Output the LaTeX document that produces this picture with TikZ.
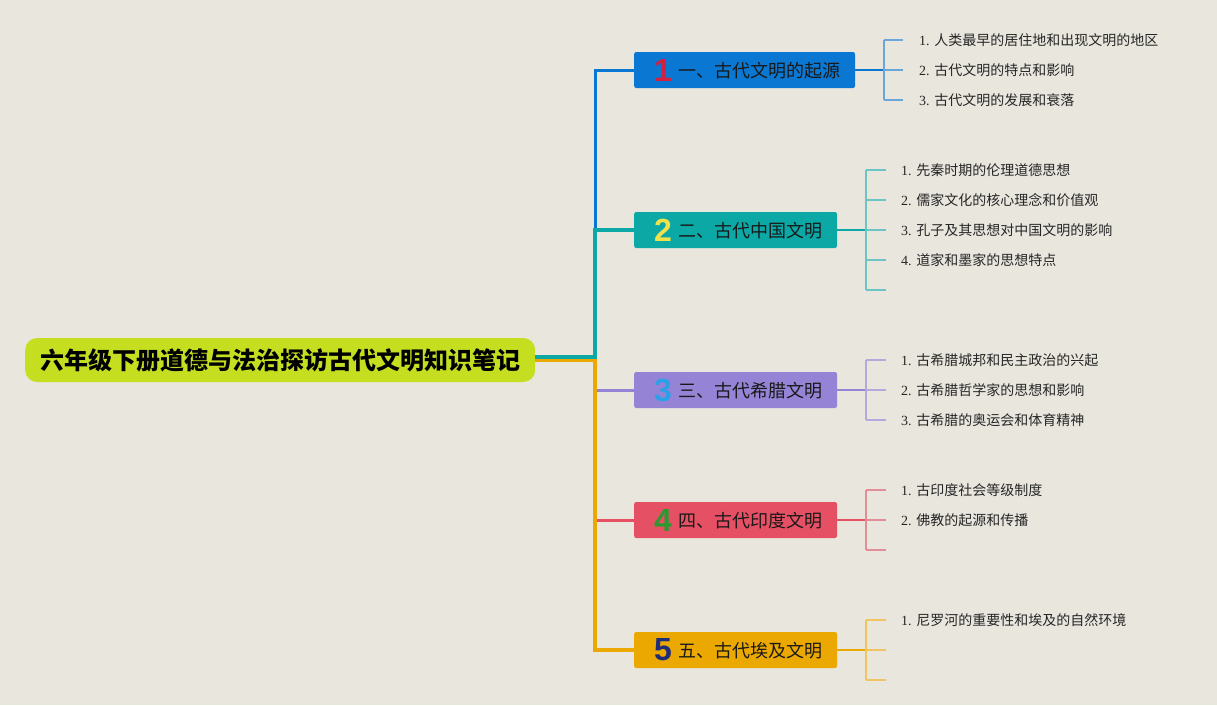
\documentclass[tikz,border=0pt]{standalone}
\usepackage{fontspec}
\setmainfont{Liberation Serif}
\newfontfamily\cjk{Noto Sans CJK SC}
\newfontfamily\numfont{Liberation Sans}
\usetikzlibrary{calc}
\definecolor{bg}{HTML}{E9E6DE}
\definecolor{rootc}{HTML}{C5DE20}
\definecolor{cA}{HTML}{0A78D2}
\definecolor{cB}{HTML}{0BA8A6}
\definecolor{cC}{HTML}{9583D6}
\definecolor{cD}{HTML}{E65065}
\definecolor{cE}{HTML}{EBA800}
\definecolor{lA}{HTML}{6AA6DA}
\definecolor{lB}{HTML}{6CC4C4}
\definecolor{lC}{HTML}{B4A8DC}
\definecolor{lD}{HTML}{E48C98}
\definecolor{lE}{HTML}{F0C460}
\definecolor{nA}{HTML}{D42040}
\definecolor{nB}{HTML}{F2E24A}
\definecolor{nC}{HTML}{2AA0E8}
\definecolor{nD}{HTML}{2A9A30}
\definecolor{nE}{HTML}{1E2C7A}
\newcommand\bnum[2]{\raisebox{-1.5pt}{\numfont\bfseries\fontsize{32}{32}\selectfont\color{#1}#2}}
\newcommand\btext[1]{\raisebox{2pt}{#1}}
\newcommand\zh[1]{{\cjk #1}}
\begin{document}
\begin{tikzpicture}[x=1pt,y=1pt,
  rootbox/.style={fill=rootc, rounded corners=12pt, minimum height=44pt, inner xsep=15pt, inner ysep=0pt, anchor=west, text=black, font=\cjk\bfseries\fontsize{24}{28}\selectfont},
  branchbox/.style={rounded corners=2pt, minimum height=36pt, inner xsep=0pt, inner ysep=0pt, anchor=west, text=black!90, font=\cjk\fontsize{18}{20}\selectfont},
  leaf/.style={anchor=west, inner sep=0pt, text=black!85, font=\fontsize{14}{16}\selectfont},
  trunk/.style={line width=#1, line join=miter},
  twig/.style={line width=1.5pt},
  stem/.style={line width=2pt}
]
\fill[bg] (0,0) rectangle (1217,-705);
\useasboundingbox (0,0) rectangle (1217,-705);

% root
\node[rootbox] (root) at (25,-360) {六年级下册道德与法治探访古代文明知识笔记};

% branch boxes
\node[branchbox, fill=cA] (b1) at (634,-70) {\hspace*{20pt}\bnum{nA}{1}\hspace{6pt}\btext{一、古代文明的起源}\hspace*{15pt}};
\node[branchbox, fill=cB] (b2) at (634,-230) {\hspace*{20pt}\bnum{nB}{2}\hspace{6pt}\btext{二、古代中国文明}\hspace*{15pt}};
\node[branchbox, fill=cC] (b3) at (634,-390) {\hspace*{20pt}\bnum{nC}{3}\hspace{6pt}\btext{三、古代希腊文明}\hspace*{15pt}};
\node[branchbox, fill=cD] (b4) at (634,-520) {\hspace*{20pt}\bnum{nD}{4}\hspace{6pt}\btext{四、古代印度文明}\hspace*{15pt}};
\node[branchbox, fill=cE] (b5) at (634,-650) {\hspace*{20pt}\bnum{nE}{5}\hspace{6pt}\btext{五、古代埃及文明}\hspace*{15pt}};

% trunk connectors
\draw[cA, trunk=3pt] ([yshift=3pt]root.east) -| ($(b1.west)+(-39,0)$) -- (b1.west);
\draw[cC, trunk=3pt] ([yshift=0pt]root.east) -| ($(b3.west)+(-39,0)$) -- (b3.west);
\draw[cD, trunk=3pt] ([yshift=0pt]root.east) -| ($(b4.west)+(-39,0)$) -- (b4.west);
\draw[cE, trunk=4pt] ([yshift=0pt]root.east) -| ($(b5.west)+(-39,0)$) -- (b5.west);
\draw[cB, trunk=4.5pt] ([yshift=3pt]root.east) -| ($(b2.west)+(-39,0)$) -- (b2.west);

% leaves
\node[leaf] (l11) at (919,-40) {1. \zh{人类最早的居住地和出现文明的地区}};
\node[leaf] (l12) at (919,-70) {2. \zh{古代文明的特点和影响}};
\node[leaf] (l13) at (919,-100) {3. \zh{古代文明的发展和衰落}};

\node[leaf] (l21) at (901,-170) {1. \zh{先秦时期的伦理道德思想}};
\node[leaf] (l22) at (901,-200) {2. \zh{儒家文化的核心理念和价值观}};
\node[leaf] (l23) at (901,-230) {3. \zh{孔子及其思想对中国文明的影响}};
\node[leaf] (l24) at (901,-260) {4. \zh{道家和墨家的思想特点}};
\coordinate (l25) at (901,-290);

\node[leaf] (l31) at (901,-360) {1. \zh{古希腊城邦和民主政治的兴起}};
\node[leaf] (l32) at (901,-390) {2. \zh{古希腊哲学家的思想和影响}};
\node[leaf] (l33) at (901,-420) {3. \zh{古希腊的奥运会和体育精神}};

\node[leaf] (l41) at (901,-490) {1. \zh{古印度社会等级制度}};
\node[leaf] (l42) at (901,-520) {2. \zh{佛教的起源和传播}};
\coordinate (l43) at (901,-550);

\node[leaf] (l51) at (901,-620) {1. \zh{尼罗河的重要性和埃及的自然环境}};
\coordinate (l52) at (901,-650);
\coordinate (l53) at (901,-680);

% brackets
\coordinate (j1) at (884,-70);
\draw[cA, stem] (b1.east) -- (j1);
\draw[lA, twig] (l11.west -| j1) -- (l13.west -| j1);
\foreach \n in {l11,l12,l13} \draw[lA, twig] (\n.west -| j1) -- ([xshift=-16pt]\n.west);

\coordinate (j2) at (866,-230);
\draw[cB, stem] (b2.east) -- (j2);
\draw[lB, twig] (l21.west -| j2) -- (l25 -| j2);
\foreach \n in {l21.west,l22.west,l23.west,l24.west,l25} \draw[lB, twig] (\n -| j2) -- ([xshift=-15pt]\n);

\coordinate (j3) at (866,-390);
\draw[cC, stem] (b3.east) -- (j3);
\draw[lC, twig] (l31.west -| j3) -- (l33.west -| j3);
\foreach \n in {l31.west,l32.west,l33.west} \draw[lC, twig] (\n -| j3) -- ([xshift=-15pt]\n);

\coordinate (j4) at (866,-520);
\draw[cD, stem] (b4.east) -- (j4);
\draw[lD, twig] (l41.west -| j4) -- (l43 -| j4);
\foreach \n in {l41.west,l42.west,l43} \draw[lD, twig] (\n -| j4) -- ([xshift=-15pt]\n);

\coordinate (j5) at (866,-650);
\draw[cE, stem] (b5.east) -- (j5);
\draw[lE, twig] (l51.west -| j5) -- (l53 -| j5);
\foreach \n in {l51.west,l52,l53} \draw[lE, twig] (\n -| j5) -- ([xshift=-15pt]\n);
\end{tikzpicture}
\end{document}
